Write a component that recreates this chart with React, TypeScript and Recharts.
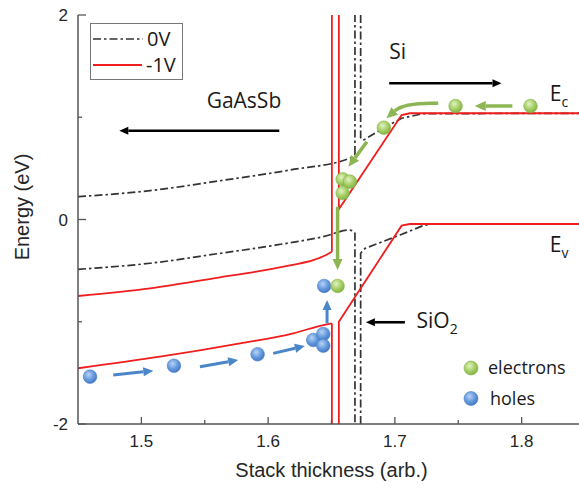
import React from 'react';
import {
  ComposedChart,
  Line,
  Scatter,
  XAxis,
  YAxis,
  ReferenceLine,
  ReferenceDot,
} from 'recharts';

type Pt = [number, number];
type Seg = [number, number, number, number];

// axes
const xDomain: [number, number] = [1.45, 1.85];
const yDomain: [number, number] = [-2, 2];
const xTicks = [1.5, 1.55, 1.6, 1.65, 1.7, 1.75, 1.8];
const yTicks = [-2, -1, 0, 1, 2];
const topTicks = [1.49, 1.53, 1.57, 1.61, 1.65, 1.69, 1.73, 1.77, 1.81];
const rightTicks = [-1.2, -0.4, 0.4, 1.2];

// 0V band edges (dash-dot): GaAsSb bent bands, oxide walls, Si side
const ecGaAsSb0V: Pt[] = [
  [1.45, 0.223], [1.5068, 0.282], [1.562, 0.379], [1.6172, 0.484],
  [1.6645, 0.599], [1.6685, 0.64],
];
const evGaAsSb0V: Pt[] = [
  [1.45, -0.487], [1.5068, -0.428], [1.562, -0.331], [1.6067, -0.249],
  [1.6435, -0.168], [1.6645, -0.103], [1.6685, -0.13],
];
const wallCb0V: Pt[] = [[1.6685, 0.64], [1.6685, 2]];
const wallVb0V: Pt[] = [[1.6685, -0.13], [1.6685, -2]];
const ecSi0V: Pt[] = [
  [1.673, 2], [1.673, 0.8], [1.675, 0.775], [1.6908, 0.892],
  [1.7053, 0.99], [1.7221, 1.035], [1.85, 1.039],
];
const evSi0V: Pt[] = [
  [1.673, -2], [1.673, -0.33], [1.6765, -0.282], [1.704, -0.152],
  [1.7223, -0.06], [1.7276, -0.045], [1.85, -0.044],
];

// -1V band edges (red)
const ecGaAsSbNeg: Pt[] = [
  [1.45, -0.748], [1.5068, -0.673], [1.562, -0.565], [1.5896, -0.512],
  [1.6172, -0.448], [1.6356, -0.398], [1.6461, -0.345], [1.6503, -0.315],
];
const evGaAsSbNeg: Pt[] = [
  [1.45, -1.455], [1.5147, -1.342], [1.5778, -1.211], [1.6198, -1.113],
  [1.6435, -1.032], [1.6503, -1.015],
];
const wallCbNeg: Pt[] = [[1.6503, -0.315], [1.6503, 2]];
const wallVbNeg: Pt[] = [[1.6503, -1.015], [1.6503, -2]];
const ecSiNeg: Pt[] = [
  [1.6558, 2], [1.6558, 0.1], [1.7053, 1.022], [1.7118, 1.039], [1.85, 1.039],
];
const evSiNeg: Pt[] = [
  [1.6558, -2], [1.6558, -1.0], [1.7053, -0.06], [1.7118, -0.044], [1.85, -0.044],
];

// carriers
const electrons: Pt[] = [
  [1.807, 1.11], [1.7479, 1.11], [1.6913, 0.898], [1.6588, 0.393],
  [1.6645, 0.37], [1.6588, 0.259], [1.6548, -0.65],
];
const holes: Pt[] = [
  [1.4595, -1.537], [1.5257, -1.43], [1.5917, -1.318], [1.6356, -1.178],
  [1.6435, -1.12], [1.6435, -1.234], [1.6442, -0.65],
];

// arrows: x1, y1 -> x2, y2 (tip)
const greenArrows: Seg[] = [
  [1.7927, 1.11, 1.763, 1.11],
  [1.6779, 0.761, 1.6634, 0.516],
  [1.6548, 0.125, 1.6548, -0.494],
];
const greenCurvedArrow: Seg = [1.7342, 1.136, 1.6933, 0.99];
const blueArrows: Seg[] = [
  [1.4778, -1.521, 1.5094, -1.479],
  [1.5462, -1.44, 1.5764, -1.374],
  [1.604, -1.309, 1.629, -1.237],
  [1.6465, -1.015, 1.6465, -0.787],
];
const blackArrows: Seg[] = [
  [1.6088, 0.868, 1.4826, 0.868],
  [1.6955, 1.332, 1.7841, 1.332],
  [1.7079, -1.005, 1.6771, -1.005],
];

// region / band labels
const labels = [
  { text: 'GaAsSb', sub: '', x: 1.5515, y: 1.09 },
  { text: 'Si', sub: '', x: 1.6955, y: 1.567 },
  { text: 'SiO', sub: '2', x: 1.7171, y: -1.061 },
  { text: 'E', sub: 'c', x: 1.8222, y: 1.162 },
  { text: 'E', sub: 'v', x: 1.8222, y: -0.315 },
];

const AXIS = '#555';
const INK = '#262626';
const RED = '#ef1d1d';
const DASH = '#333';
const GREEN = '#8db552';
const BLUE = '#4a86c8';
const TICK_FONT = '"Liberation Sans", Arial, sans-serif';
const NOTE_FONT = '"Open Sans", sans-serif';
const DASHES = '8 3 2.5 3';

const rows = (pts: Pt[]) => pts.map(([x, y]) => ({ x, y }));
const isMajor = (v: number, step: number) =>
  Math.abs(v / step - Math.round(v / step)) < 1e-6;

const BottomTick = ({ x, y, payload }: any) => {
  const major = isMajor(payload.value, 0.1);
  return (
    <g>
      <line x1={x} x2={x} y1={y} y2={y - (major ? 7 : 4)} stroke={AXIS} strokeWidth={1.3} />
      {major && (
        <text x={x} y={y + 23} textAnchor="middle" fontSize={17} fill={INK} fontFamily={TICK_FONT}>
          {payload.value.toFixed(1)}
        </text>
      )}
    </g>
  );
};

const LeftTick = ({ x, y, payload }: any) => {
  const major = isMajor(payload.value, 2);
  return (
    <g>
      <line x1={x} x2={x + (major ? 8 : 4)} y1={y} y2={y} stroke={AXIS} strokeWidth={1.3} />
      {major && (
        <text x={x - 10} y={y} dy="0.36em" textAnchor="end" fontSize={17} fill={INK} fontFamily={TICK_FONT}>
          {payload.value}
        </text>
      )}
    </g>
  );
};

const TopTick = ({ x, y }: any) => (
  <line x1={x} x2={x} y1={y} y2={y + 6} stroke={AXIS} strokeWidth={1.3} />
);

const RightTick = ({ x, y }: any) => (
  <line x1={x} x2={x - 9} y1={y} y2={y} stroke={AXIS} strokeWidth={1.3} />
);

const XLabel = ({ viewBox }: any) => (
  <text
    x={viewBox.x + viewBox.width / 2}
    y={viewBox.y + 53}
    textAnchor="middle"
    fontSize={20}
    fill={INK}
    fontFamily={TICK_FONT}
  >
    Stack thickness (arb.)
  </text>
);

const YLabel = ({ viewBox }: any) => (
  <text
    transform={`translate(${viewBox.x + 29}, ${viewBox.y + viewBox.height / 2 - 12.5}) rotate(-90)`}
    textAnchor="middle"
    fontSize={20}
    fill={INK}
    fontFamily={TICK_FONT}
  >
    Energy (eV)
  </text>
);

const arrowShape = (color: string, width: number, head: number, half: number) => (p: any) => {
  const { x1, y1, x2, y2 } = p;
  const a = Math.atan2(y2 - y1, x2 - x1);
  const bx = x2 - head * Math.cos(a);
  const by = y2 - head * Math.sin(a);
  const nx = -Math.sin(a) * half;
  const ny = Math.cos(a) * half;
  return (
    <g>
      <line x1={x1} y1={y1} x2={bx} y2={by} stroke={color} strokeWidth={width} />
      <polygon points={`${x2},${y2} ${bx + nx},${by + ny} ${bx - nx},${by - ny}`} fill={color} />
    </g>
  );
};

const curvedArrowShape = (p: any) => {
  const { x1, y1, x2, y2 } = p;
  const cx = x2 + 0.35 * (x1 - x2);
  const cy = y1 - 1;
  const a = Math.atan2(y2 - cy, x2 - cx);
  const head = 11;
  const half = 5;
  const bx = x2 - head * Math.cos(a);
  const by = y2 - head * Math.sin(a);
  const nx = -Math.sin(a) * half;
  const ny = Math.cos(a) * half;
  return (
    <g>
      <path d={`M${x1},${y1} Q${cx},${cy} ${bx},${by}`} fill="none" stroke={GREEN} strokeWidth={3.5} />
      <polygon points={`${x2},${y2} ${bx + nx},${by + ny} ${bx - nx},${by - ny}`} fill={GREEN} />
    </g>
  );
};

const labelShape = (text: string, sub: string) => (p: any) => (
  <text x={p.cx} y={p.cy} fontSize={21} fill="#1a1a1a" fontFamily={NOTE_FONT}>
    {text}
    {sub && (
      <tspan dy={6} fontSize={14}>
        {sub}
      </tspan>
    )}
  </text>
);

const ElectronDot = ({ cx, cy }: any) => (
  <circle cx={cx} cy={cy} r={6.8} fill="url(#gradElectron)" stroke="#86b048" strokeWidth={0.6} />
);
const HoleDot = ({ cx, cy }: any) => (
  <circle cx={cx} cy={cy} r={6.8} fill="url(#gradHole)" stroke="#4a7fc4" strokeWidth={0.6} />
);

const bandLine = (key: string, pts: Pt[], smooth: boolean, bias: '0V' | '-1V') => (
  <Line
    key={key}
    data={rows(pts)}
    dataKey="y"
    type={smooth ? 'monotone' : 'linear'}
    stroke={bias === '0V' ? DASH : RED}
    strokeWidth={bias === '0V' ? 1.7 : 1.8}
    strokeDasharray={bias === '0V' ? DASHES : undefined}
    dot={false}
    activeDot={false}
    isAnimationActive={false}
  />
);

const App: React.FC = () => {
  return (
    <div
      style={{
        position: 'fixed',
        left: 0,
        top: 0,
        width: 579,
        height: 489,
        overflow: 'hidden',
        background: '#fff',
      }}
    >
      <ComposedChart width={600} height={489} margin={{ top: 15, right: 15, bottom: 0, left: 0 }}>
        <defs>
          <radialGradient id="gradElectron" cx="40%" cy="35%" r="65%">
            <stop offset="0%" stopColor="#e2f2c4" />
            <stop offset="55%" stopColor="#a8d16a" />
            <stop offset="100%" stopColor="#84b444" />
          </radialGradient>
          <radialGradient id="gradHole" cx="40%" cy="35%" r="65%">
            <stop offset="0%" stopColor="#b9d3f5" />
            <stop offset="55%" stopColor="#6a9de0" />
            <stop offset="100%" stopColor="#4479c4" />
          </radialGradient>
        </defs>
        <XAxis
          type="number"
          dataKey="x"
          domain={xDomain}
          ticks={xTicks}
          interval={0}
          height={65}
          allowDataOverflow
          tickSize={0}
          tickMargin={0}
          tickLine={false}
          tick={BottomTick}
          axisLine={{ stroke: AXIS, strokeWidth: 1.5 }}
          label={{ value: 'Stack thickness (arb.)', content: XLabel }}
        />
        <XAxis
          xAxisId="top"
          orientation="top"
          type="number"
          dataKey="x"
          domain={xDomain}
          ticks={topTicks}
          interval={0}
          height={0}
          allowDataOverflow
          tickSize={0}
          tickMargin={0}
          tickLine={false}
          tick={TopTick}
          axisLine={{ stroke: AXIS, strokeWidth: 1.5 }}
        />
        <YAxis
          type="number"
          dataKey="y"
          domain={yDomain}
          ticks={yTicks}
          interval={0}
          width={78}
          allowDataOverflow
          tickSize={0}
          tickMargin={0}
          tickLine={false}
          tick={LeftTick}
          axisLine={{ stroke: AXIS, strokeWidth: 1.5 }}
          label={{ value: 'Energy (eV)', content: YLabel }}
        />
        <YAxis
          yAxisId="right"
          orientation="right"
          type="number"
          domain={yDomain}
          ticks={rightTicks}
          interval={0}
          width={0}
          allowDataOverflow
          tickSize={0}
          tickMargin={0}
          tickLine={false}
          tick={RightTick}
          axisLine={{ stroke: AXIS, strokeWidth: 1.5 }}
        />

        {bandLine('d1', ecGaAsSb0V, true, '0V')}
        {bandLine('d2', evGaAsSb0V, true, '0V')}
        {bandLine('d3', wallCb0V, false, '0V')}
        {bandLine('d4', wallVb0V, false, '0V')}
        {bandLine('d5', ecSi0V, false, '0V')}
        {bandLine('d6', evSi0V, false, '0V')}

        {bandLine('r1', ecGaAsSbNeg, true, '-1V')}
        {bandLine('r2', evGaAsSbNeg, true, '-1V')}
        {bandLine('r3', wallCbNeg, false, '-1V')}
        {bandLine('r4', wallVbNeg, false, '-1V')}
        {bandLine('r5', ecSiNeg, false, '-1V')}
        {bandLine('r6', evSiNeg, false, '-1V')}

        {blackArrows.map(([x1, y1, x2, y2], i) => (
          <ReferenceLine
            key={`k${i}`}
            segment={[{ x: x1, y: y1 }, { x: x2, y: y2 }]}
            shape={arrowShape('#000', 2.6, 9, 4)}
          />
        ))}
        {greenArrows.map(([x1, y1, x2, y2], i) => (
          <ReferenceLine
            key={`g${i}`}
            segment={[{ x: x1, y: y1 }, { x: x2, y: y2 }]}
            shape={arrowShape(GREEN, 3.5, 11, 5)}
          />
        ))}
        <ReferenceLine
          segment={[
            { x: greenCurvedArrow[0], y: greenCurvedArrow[1] },
            { x: greenCurvedArrow[2], y: greenCurvedArrow[3] },
          ]}
          shape={curvedArrowShape}
        />
        {blueArrows.map(([x1, y1, x2, y2], i) => (
          <ReferenceLine
            key={`b${i}`}
            segment={[{ x: x1, y: y1 }, { x: x2, y: y2 }]}
            shape={arrowShape(BLUE, 3, 10, 4.5)}
          />
        ))}

        {labels.map((l, i) => (
          <ReferenceDot key={`t${i}`} x={l.x} y={l.y} r={0} shape={labelShape(l.text, l.sub)} />
        ))}

        <Scatter data={rows(holes)} dataKey="y" shape={HoleDot} isAnimationActive={false} />
        <Scatter data={rows(electrons)} dataKey="y" shape={ElectronDot} isAnimationActive={false} />
      </ComposedChart>

      <svg
        width={579}
        height={489}
        style={{ position: 'absolute', left: 0, top: 0, pointerEvents: 'none' }}
      >
        <defs>
          <radialGradient id="gradElectronL" cx="40%" cy="35%" r="65%">
            <stop offset="0%" stopColor="#e2f2c4" />
            <stop offset="55%" stopColor="#a8d16a" />
            <stop offset="100%" stopColor="#84b444" />
          </radialGradient>
          <radialGradient id="gradHoleL" cx="40%" cy="35%" r="65%">
            <stop offset="0%" stopColor="#b9d3f5" />
            <stop offset="55%" stopColor="#6a9de0" />
            <stop offset="100%" stopColor="#4479c4" />
          </radialGradient>
        </defs>
        <rect x={90.5} y={23.5} width={92} height={56} fill="#fff" stroke="#777" strokeWidth={1} />
        <line x1={93} x2={143} y1={39} y2={39} stroke={DASH} strokeWidth={1.7} strokeDasharray={DASHES} />
        <text x={147} y={46} fontSize={20} fill="#1a1a1a" fontFamily={NOTE_FONT}>0V</text>
        <line x1={93} x2={142} y1={65} y2={65} stroke={RED} strokeWidth={1.8} />
        <text x={146} y={72} fontSize={20} fill="#1a1a1a" fontFamily={NOTE_FONT}>-1V</text>

        <circle cx={471} cy={368} r={7} fill="url(#gradElectronL)" stroke="#86b048" strokeWidth={0.6} />
        <text x={488} y={373.5} fontSize={18} fill="#1a1a1a" fontFamily={NOTE_FONT}>electrons</text>
        <circle cx={471} cy={398.5} r={7} fill="url(#gradHoleL)" stroke="#4a7fc4" strokeWidth={0.6} />
        <text x={490} y={404.5} fontSize={18} fill="#1a1a1a" fontFamily={NOTE_FONT}>holes</text>
      </svg>
    </div>
  );
};

export default App;
